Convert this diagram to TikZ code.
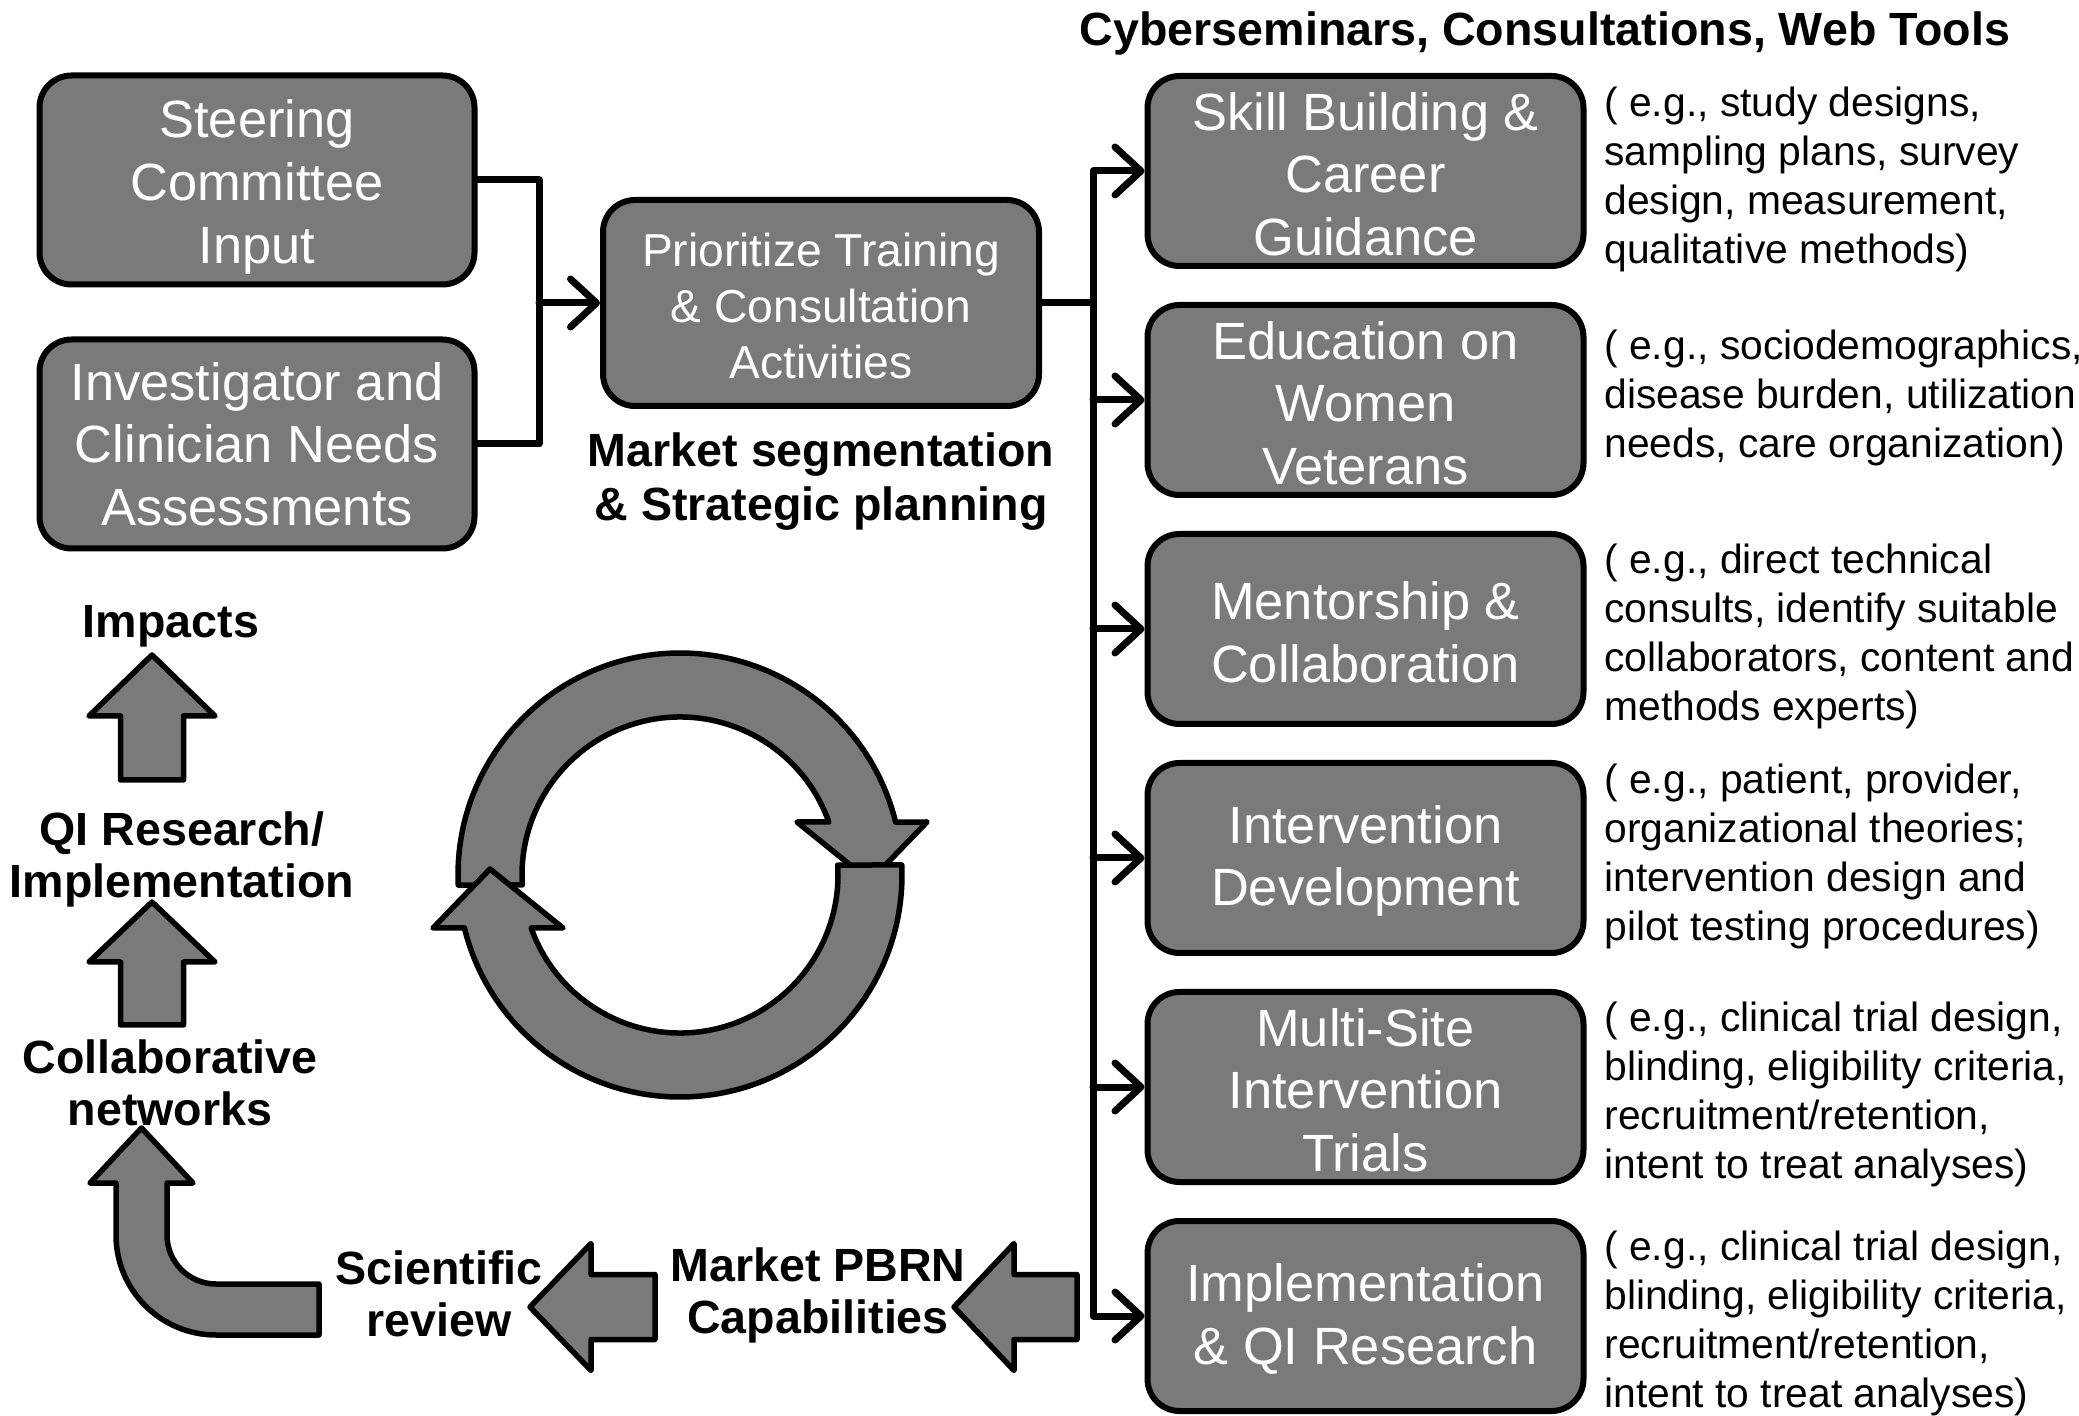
\documentclass[tikz,border=0pt]{standalone}
\usepackage{fontspec}
\setmainfont{Liberation Sans}
\usetikzlibrary{arrows.meta}
\definecolor{boxgray}{RGB}{122,122,122}
\begin{document}
\begin{tikzpicture}[x=0.5pt,y=0.5pt,
  box/.style={draw=black, line width=3pt, fill=boxgray, rounded corners=16pt, inner sep=0pt},
  btxt/.style={text=white, align=center, inner sep=0pt, font=\fontsize{26.2pt}{31.3pt}\selectfont},
  rbox/.style={box, minimum width=218pt, minimum height=95pt},
  lbox/.style={box, minimum width=217.5pt, minimum height=104.5pt},
  lbl/.style={font=\bfseries\fontsize{23.3pt}{26pt}\selectfont, align=center, inner sep=0pt},
  side/.style={font=\fontsize{20.4pt}{24.5pt}\selectfont, align=left, anchor=west, inner sep=0pt},
  conn/.style={line width=3.5pt, line join=round, line cap=round},
  tip/.style={-{Straight Barb[length=13pt,width=24pt,round]}},
  blk/.style={draw=black, line width=2.75pt, fill=boxgray, line join=round}]
\useasboundingbox (0,0) rectangle (2079,-1416);

% left input boxes
\node[lbox] (b1) at (257,-180) {};
\node[btxt] (t1) at ([yshift=-3.5pt]b1.center) {Steering\\Committee\\Input};
\node[lbox] (b2) at (257,-444) {};
\node[btxt] (t2) at ([yshift=0pt]b2.center) {Investigator and\\Clinician Needs\\Assessments};
\node[box, minimum width=218pt, minimum height=103pt] (b3) at (821,-303) {};
\node[btxt, font=\fontsize{23.1pt}{28pt}\selectfont] (t3) at ([yshift=-1.5pt]b3.center) {Prioritize Training\\\& Consultation\\Activities};
\node[lbl, font=\bfseries\fontsize{23.3pt}{27pt}\selectfont] (ms) at (821,-482) {Market segmentation\\\& Strategic planning};

\coordinate (j1) at (539,-303);
\draw[conn] (b1.east) -| (j1) |- (b2.east);
\draw[conn,tip] (j1) -- (b3.west);

% header
\node[lbl] (hd) at (1545,-33) {Cyberseminars, Consultations, Web Tools};

% right boxes
\node[rbox] (rA) at (1365.5,-171) {};
\node[rbox] (rB) at (1365.5,-400) {};
\node[rbox] (rC) at (1365.5,-629) {};
\node[rbox] (rD) at (1365.5,-858) {};
\node[rbox] (rE) at (1365.5,-1087) {};
\node[rbox] (rF) at (1365.5,-1316) {};
\node[btxt] (tA) at ([yshift=-1.5pt]rA.center) {Skill Building \&\\Career\\Guidance};
\node[btxt] (tB) at ([yshift=-1.5pt]rB.center) {Education on\\Women\\Veterans};
\node[btxt] (tC) at ([yshift=-1.5pt]rC.center) {Mentorship \&\\Collaboration};
\node[btxt] (tD) at ([yshift=-1.5pt]rD.center) {Intervention\\Development};
\node[btxt] (tE) at ([yshift=-1.5pt]rE.center) {Multi-Site\\Intervention\\Trials};
\node[btxt] (tF) at ([yshift=-1.5pt]rF.center) {Implementation\\\& QI Research};

\node[side] (sA) at (1604,-179) {( e.g., study designs,\\sampling plans, survey\\design, measurement,\\qualitative methods)};
\node[side] (sB) at (1604,-398) {( e.g., sociodemographics,\\disease burden, utilization\\needs, care organization)};
\node[side] (sC) at (1604,-636) {( e.g., direct technical\\consults, identify suitable\\collaborators, content and\\methods experts)};
\node[side] (sD) at (1604,-856) {( e.g., patient, provider,\\organizational theories;\\intervention design and\\pilot testing procedures)};
\node[side] (sE) at (1604,-1094) {( e.g., clinical trial design,\\blinding, eligibility criteria,\\recruitment/retention,\\intent to treat analyses)};
\node[side] (sF) at (1604,-1323) {( e.g., clinical trial design,\\blinding, eligibility criteria,\\recruitment/retention,\\intent to treat analyses)};

% bus
\coordinate (bus) at (1093,0);
\draw[conn] (b3.east) -- (bus |- b3.east);
\draw[conn,{Straight Barb[length=13pt,width=24pt,round]}-{Straight Barb[length=13pt,width=24pt,round]}] (rA.west) -- (bus |- rA.west) -- (bus |- rF.west) -- (rF.west);
\foreach \b in {rB,rC,rD,rE}{
  \draw[conn,tip] (bus |- \b.west) -- (\b.west);
}

% left column labels and block arrows
\node[lbl] (imp) at (171,-626) {Impacts};
\node[lbl] (qi) at (182,-859) {QI Research/\\Implementation};
\node[lbl] (cn) at (170,-1083) {Collaborative\\networks};
\node[lbl] (sr) at (439,-1294) {Scientific\\review};
\node[lbl] (mp) at (818,-1295) {Market PBRN\\Capabilities};

\draw[blk] (152,-655) -- (215,-716) -- (183.5,-716) -- (183.5,-780) -- (120.5,-780) -- (120.5,-716) -- (89,-716) -- cycle;
\draw[blk] (152,-902) -- (215,-962) -- (183.5,-962) -- (183.5,-1025) -- (120.5,-1025) -- (120.5,-962) -- (89,-962) -- cycle;
\draw[blk] (141.5,-1128) -- (193,-1183) -- (167,-1183) -- (167,-1235) arc[start angle=180,end angle=270,radius=49] -- (319,-1284) -- (319,-1335) -- (216,-1335) arc[start angle=270,end angle=180,radius=100] -- (116,-1183) -- (90,-1183) -- cycle;
\draw[blk] (530,-1307) -- (591,-1243.5) -- (591,-1274.5) -- (655,-1274.5) -- (655,-1339.5) -- (591,-1339.5) -- (591,-1370.5) -- cycle;
\draw[blk] (954,-1307) -- (1014,-1243.5) -- (1014,-1274.5) -- (1077,-1274.5) -- (1077,-1339.5) -- (1014,-1339.5) -- (1014,-1370.5) -- cycle;

% cycle arrows
\begin{scope}[shift={(680,-875)}]
\draw[blk] (182.6:222) arc[start angle=182.6,end angle=13.8,radius=222] -- (247,53) -- (190,-6) -- (117,53) -- (19.6:158) arc[start angle=19.6,end angle=183.6,radius=158] -- cycle;
\draw[blk] (2.6:222) arc[start angle=2.6,end angle=-166.2,radius=222] -- (-247,-53) -- (-190,6) -- (-117,-53) -- (199.6:158) arc[start angle=199.6,end angle=363.6,radius=158] -- cycle;
\end{scope}
\end{tikzpicture}
\end{document}
